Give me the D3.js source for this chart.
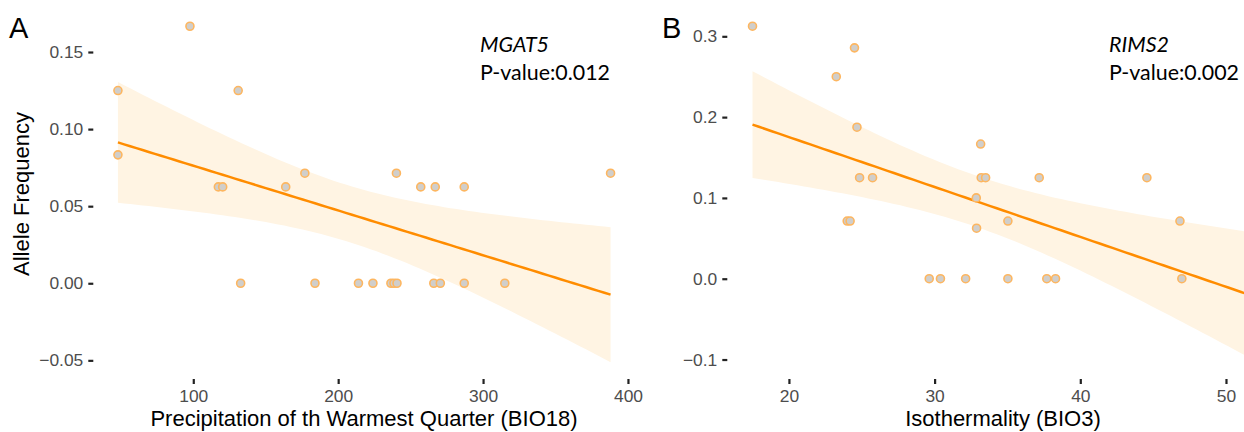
<!DOCTYPE html>
<html>
<head>
<meta charset="utf-8">
<script src="https://cdn.jsdelivr.net/npm/d3@7"></script>
<style>
  body { margin: 0; background: #fff; }
  svg { display: block; overflow: hidden; }
</style>
</head>
<body>
<svg id="chart"></svg>
<script>
// panel A : MGAT5 vs BIO18
var mgat5X = [48, 48, 97.7, 131, 117.3, 120.3, 132.7, 163.8, 177, 184, 214, 224, 236.4, 238.5, 240.6, 240.2, 257, 266, 267, 270.5, 287, 287, 315, 388];
var mgat5Y = [0.125, 0.0833, 0.1667, 0.125, 0.0625, 0.0625, 0, 0.0625, 0.0714, 0, 0, 0, 0, 0, 0, 0.0714, 0.0625, 0, 0.0625, 0, 0.0625, 0, 0, 0.0714];

// panel B : RIMS2 vs BIO3 (last point sits past the cropped right edge)
var rims2X = [17.5, 24.5, 23.25, 24.67, 24.85, 25.74, 33.16, 33.2, 33.5, 37.18, 44.57, 32.86, 32.88, 35.03, 46.84, 24.0, 24.2, 29.63, 30.4, 32.13, 35.03, 37.7, 38.3, 46.97, 52.8];
var rims2Y = [0.3125, 0.2857, 0.25, 0.1875, 0.125, 0.125, 0.1667, 0.125, 0.125, 0.125, 0.125, 0.1, 0.0625, 0.0714, 0.0714, 0.0714, 0.0714, 0, 0, 0, 0, 0, 0, 0, 0];

var xTicksA = [100, 200, 300, 400];
var yTicksA = [-0.05, 0, 0.05, 0.10, 0.15];
var xTicksB = [20, 30, 40, 50];
var yTicksB = [-0.1, 0, 0.1, 0.2, 0.3];

var panels = [
    {tag: "A", gene: "MGAT5", p: "P-value:0.012", xs: mgat5X, ys: mgat5Y,
     xTitle: "Precipitation of th Warmest Quarter (BIO18)", xTicks: xTicksA, yTicks: yTicksA, yFmt: ".2f",
     xDom: [31, 405], yDom: [-0.0621, 0.1779], left: 93.3, right: 635.2, titleX: 364, tagX: 9, noteX: 480},
    {tag: "B", gene: "RIMS2", p: "P-value:0.002", xs: rims2X, ys: rims2Y,
     xTitle: "Isothermality (BIO3)", xTicks: xTicksB, yTicks: yTicksB, yFmt: ".1f",
     xDom: [15.77, 54.6], yDom: [-0.1241, 0.3338], left: 727.3, right: 1293, titleX: 1003, tagX: 662, noteX: 1109}
];

var W = 1244, H = 432, plotTop = 9, plotBottom = 379;
var svg = d3.select("#chart").attr("width", W).attr("height", H);
var font = "'Liberation Sans', Arial, Helvetica, sans-serif";
var noteFont = "Lato, 'Open Sans', sans-serif";

// t quantile (0.975) by Cornish-Fisher expansion
function t975(df) {
    var z = 1.959964;
    return z + (Math.pow(z, 3) + z) / (4 * df)
        + (5 * Math.pow(z, 5) + 16 * Math.pow(z, 3) + 3 * z) / (96 * df * df)
        + (3 * Math.pow(z, 7) + 19 * Math.pow(z, 5) + 17 * Math.pow(z, 3) - 15 * z) / (384 * Math.pow(df, 3));
}

// ordinary least squares with 95% confidence band, like geom_smooth(method = "lm")
function lmFit(xs, ys) {
    var n = xs.length, mx = d3.mean(xs), my = d3.mean(ys), sxx = 0, sxy = 0, sse = 0;
    xs.forEach(function (x, i) { sxx += (x - mx) * (x - mx); sxy += (x - mx) * (ys[i] - my); });
    var b = sxy / sxx, a = my - b * mx;
    xs.forEach(function (x, i) { var r = ys[i] - a - b * x; sse += r * r; });
    var s = Math.sqrt(sse / (n - 2)), t = t975(n - 2);
    var lo = d3.min(xs), hi = d3.max(xs);
    return d3.range(81).map(function (k) {
        var x = lo + (hi - lo) * k / 80, f = a + b * x;
        var h = t * s * Math.sqrt(1 / n + (x - mx) * (x - mx) / sxx);
        return {x: x, y: f, lo: f - h, hi: f + h};
    });
}

panels.forEach(function (p) {
    var x = d3.scaleLinear().domain(p.xDom).range([p.left, p.right]);
    var y = d3.scaleLinear().domain(p.yDom).range([plotBottom, plotTop]);
    var fit = lmFit(p.xs, p.ys);
    var g = svg.append("g");

    g.append("path")
        .datum(fit)
        .attr("fill", "#fff4e3")
        .attr("d", d3.area().x(function (d) { return x(d.x); }).y0(function (d) { return y(d.lo); }).y1(function (d) { return y(d.hi); }));

    g.append("path")
        .datum(fit)
        .attr("fill", "none")
        .attr("stroke", "#ff8c00")
        .attr("stroke-width", 2.5)
        .attr("d", d3.line().x(function (d) { return x(d.x); }).y(function (d) { return y(d.y); }));

    g.append("g").selectAll("circle")
        .data(p.xs.map(function (v, i) { return [v, p.ys[i]]; }))
        .enter().append("circle")
        .attr("cx", function (d) { return x(d[0]); })
        .attr("cy", function (d) { return y(d[1]); })
        .attr("r", 4)
        .attr("fill", "#d0cecb")
        .attr("stroke", "#fdb660")
        .attr("stroke-width", 1.6);

    // axes: ticks only, no domain line
    var ax = g.append("g")
        .attr("transform", "translate(0," + plotBottom + ")")
        .call(d3.axisBottom(x).tickValues(p.xTicks).tickSize(5).tickPadding(6).tickFormat(d3.format("d")));
    var ay = g.append("g")
        .attr("transform", "translate(" + p.left + ",0)")
        .call(d3.axisLeft(y).tickValues(p.yTicks).tickSize(5).tickPadding(5).tickFormat(d3.format(p.yFmt)));
    [ax, ay].forEach(function (a) {
        a.select(".domain").remove();
        a.selectAll("line").attr("stroke", "#222").attr("stroke-width", 2.2);
        a.selectAll("text").attr("fill", "#4d4d4d").attr("font-size", 17.4).attr("font-family", font);
    });

    g.append("text")
        .attr("x", p.titleX).attr("y", 426)
        .attr("text-anchor", "middle")
        .attr("font-family", font).attr("font-size", 22)
        .text(p.xTitle);

    g.append("text")
        .attr("x", p.tagX).attr("y", 38)
        .attr("font-family", font).attr("font-size", 29)
        .text(p.tag);

    g.append("text")
        .attr("x", p.noteX).attr("y", 52)
        .attr("font-family", noteFont).attr("font-size", 21.4)
        .attr("font-style", "italic")
        .text(p.gene);
    g.append("text")
        .attr("x", p.noteX).attr("y", 80)
        .attr("font-family", noteFont).attr("font-size", 21.4)
        .text(p.p);
});

svg.append("text")
    .attr("transform", "translate(29,194) rotate(-90)")
    .attr("text-anchor", "middle")
    .attr("font-family", font).attr("font-size", 22)
    .text("Allele Frequency");
</script>
</body>
</html>
